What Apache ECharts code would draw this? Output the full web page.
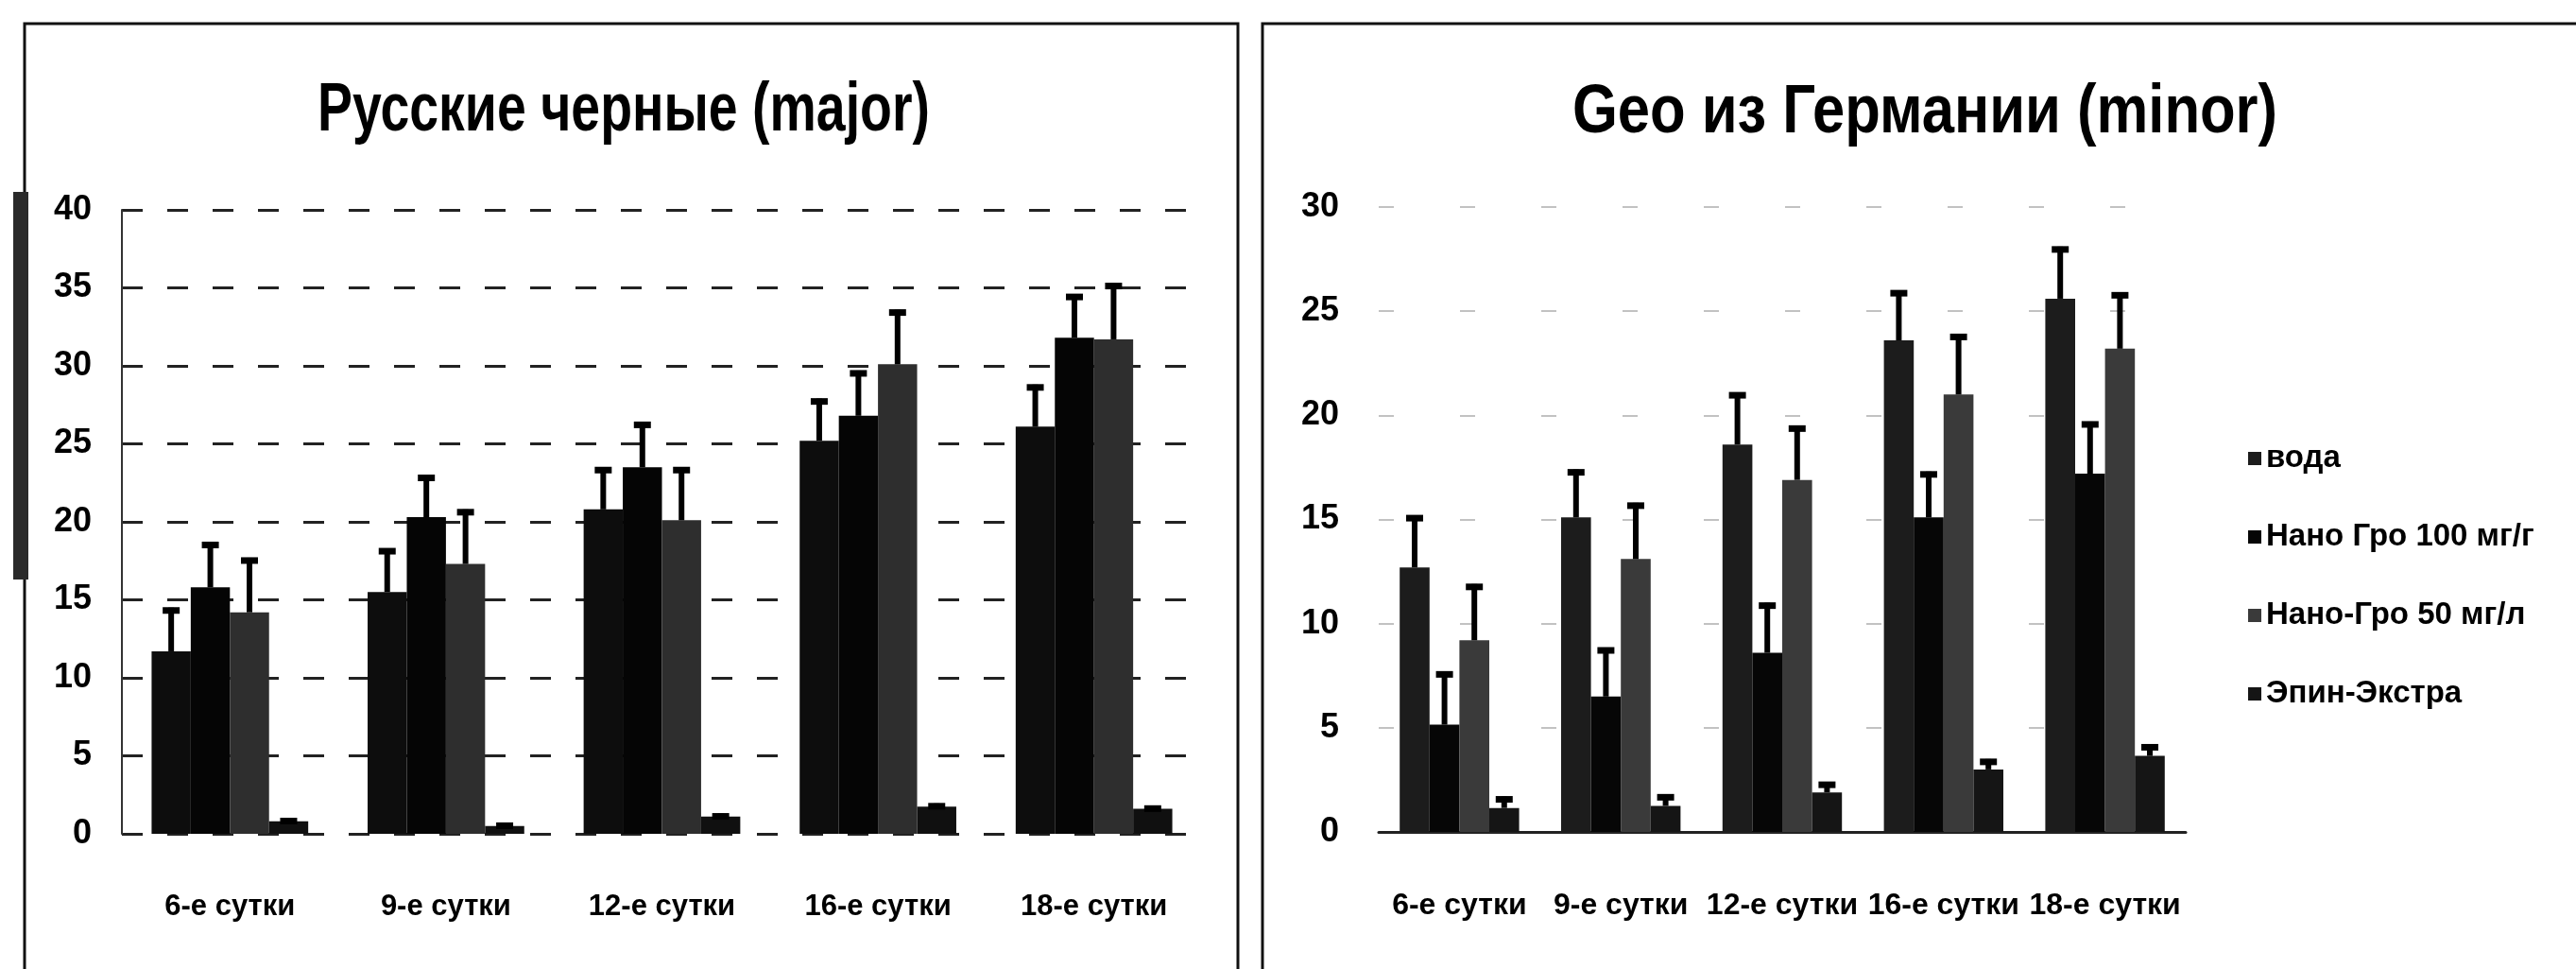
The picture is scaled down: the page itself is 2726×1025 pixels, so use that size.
<!DOCTYPE html>
<html>
<head>
<meta charset="utf-8">
<script src="https://cdn.jsdelivr.net/npm/echarts@6/dist/echarts.min.js"></script>
<style>
html,body{margin:0;padding:0;background:#fff;}
#c{width:2726px;height:1025px;}
</style>
</head>
<body>
<div id="c"></div>
<script>
// ---- data ----
var categories = ['6-е сутки', '9-е сутки', '12-е сутки', '16-е сутки', '18-е сутки'];
var seriesNames = ['вода', 'Нано Гро 100 мг/г', 'Нано-Гро 50 мг/л', 'Эпин-Экстра'];
var leftTitle = 'Русские черные (major)';
var rightTitle = 'Geo из Германии (minor)';
var leftTicks = [0, 5, 10, 15, 20, 25, 30, 35, 40];
var rightTicks = [0, 5, 10, 15, 20, 25, 30];

// Русские черные (major)
var ruVoda = [11.7, 15.5, 20.8, 25.2, 26.1];
var ruVodaErr = [2.8, 2.8, 2.7, 2.7, 2.7];
var ruNano100 = [15.8, 20.3, 23.5, 26.8, 31.8];
var ruNano100Err = [2.9, 2.7, 2.9, 2.9, 2.8];
var ruNano50 = [14.2, 17.3, 20.1, 30.1, 31.7];
var ruNano50Err = [3.5, 3.5, 3.4, 3.5, 3.6];
var ruEpin = [0.8, 0.5, 1.1, 1.75, 1.6];
var ruEpinErr = [0.2, 0.2, 0.2, 0.2, 0.2];

// Geo из Германии (minor)
var geoVoda = [12.7, 15.1, 18.6, 23.6, 25.6];
var geoVodaErr = [2.5, 2.3, 2.5, 2.4, 2.5];
var geoNano100 = [5.15, 6.5, 8.6, 15.1, 17.2];
var geoNano100Err = [2.55, 2.35, 2.4, 2.2, 2.5];
var geoNano50 = [9.2, 13.1, 16.9, 21.0, 23.2];
var geoNano50Err = [2.7, 2.7, 2.6, 2.9, 2.7];
var geoEpin = [1.15, 1.25, 1.9, 3.0, 3.65];
var geoEpinErr = [0.55, 0.55, 0.5, 0.5, 0.55];

// ---- styles ----
var FONT = '"Liberation Sans Narrow", "Liberation Sans", sans-serif';
var leftColors = ['#0d0d0d', '#050505', '#2e2e2e', '#101010'];
var rightColors = ['#1c1c1c', '#060606', '#3a3a3a', '#151515'];
var CAT_GAP_L = 0.275, CAT_GAP_R = 0.26;

var chart = echarts.init(document.getElementById('c'));

function errRenderer(idx, n, gap) {
  return function (params, api) {
    var ci = api.value(0), v = api.value(1), e = api.value(2);
    var base = api.coord([ci, v]);
    var top = api.coord([ci, v + e]);
    var band = api.size([1, 0])[0];
    var bw = band * (1 - gap) / n;
    var x = base[0] + (idx - (n - 1) / 2) * bw;
    var cap = 18;
    return {
      type: 'group',
      children: [
        { type: 'line', shape: { x1: x, y1: base[1], x2: x, y2: top[1] }, style: { stroke: '#000', lineWidth: 6 } },
        { type: 'line', shape: { x1: x - cap / 2, y1: top[1] + 3, x2: x + cap / 2, y2: top[1] + 3 }, style: { stroke: '#000', lineWidth: 7 } }
      ]
    };
  };
}

function errData(vals, errs) {
  return vals.map(function (v, i) { return [i, v, errs[i]]; });
}

var leftSets = [[ruVoda, ruVodaErr], [ruNano100, ruNano100Err], [ruNano50, ruNano50Err], [ruEpin, ruEpinErr]];
var rightSets = [[geoVoda, geoVodaErr], [geoNano100, geoNano100Err], [geoNano50, geoNano50Err], [geoEpin, geoEpinErr]];

var series = [];
leftSets.forEach(function (s, i) {
  series.push({
    type: 'bar', name: seriesNames[i], xAxisIndex: 0, yAxisIndex: 0,
    data: s[0], barGap: '0%', barCategoryGap: (CAT_GAP_L * 100) + '%',
    itemStyle: { color: leftColors[i] }, silent: true, animation: false
  });
});
rightSets.forEach(function (s, i) {
  series.push({
    type: 'bar', name: seriesNames[i], xAxisIndex: 1, yAxisIndex: 1,
    data: s[0], barGap: '0%', barCategoryGap: (CAT_GAP_R * 100) + '%',
    itemStyle: { color: rightColors[i] }, silent: true, animation: false
  });
});
leftSets.forEach(function (s, i) {
  series.push({
    type: 'custom', xAxisIndex: 0, yAxisIndex: 0, z: 5, silent: true, animation: false,
    renderItem: errRenderer(i, 4, CAT_GAP_L), data: errData(s[0], s[1])
  });
});
rightSets.forEach(function (s, i) {
  series.push({
    type: 'custom', xAxisIndex: 1, yAxisIndex: 1, z: 5, silent: true, animation: false,
    renderItem: errRenderer(i, 4, CAT_GAP_R), data: errData(s[0], s[1])
  });
});

var option = {
  backgroundColor: '#fff',
  animation: false,
  textStyle: { fontFamily: FONT },
  legend: {
    orient: 'vertical', left: 2374, top: 462, itemGap: 47, itemWidth: 14, itemHeight: 14,
    icon: 'rect',
    textStyle: { fontFamily: FONT, fontSize: 33, fontWeight: 'bold', color: '#000', lineHeight: 36 },
    data: seriesNames.map(function (n, i) {
      return { name: n, itemStyle: { color: rightColors[i] } };
    })
  },
  grid: [
    { left: 129, top: 222, width: 1143, height: 660, containLabel: false },
    { left: 1459, top: 219, width: 854, height: 661, containLabel: false }
  ],
  xAxis: [
    { type: 'category', gridIndex: 0, data: categories,
      axisLine: { show: false }, axisTick: { show: false },
      axisLabel: { margin: 62, fontFamily: FONT, fontSize: 31, fontWeight: 'bold', color: '#000' } },
    { type: 'category', gridIndex: 1, data: categories,
      axisLine: { show: true, lineStyle: { color: '#222', width: 3 } }, axisTick: { show: false },
      axisLabel: { margin: 62, fontFamily: FONT, fontSize: 32, fontWeight: 'bold', color: '#000', interval: 0 } }
  ],
  yAxis: [
    { type: 'value', gridIndex: 0, min: 0, max: 40, interval: 5,
      axisLine: { show: true, lineStyle: { color: '#333', width: 2 } }, axisTick: { show: false },
      axisLabel: { margin: 32, fontFamily: FONT, fontSize: 36, fontWeight: 'bold', color: '#000',
        formatter: function (v) { return leftTicks.indexOf(v) >= 0 ? String(v) : ''; } },
      splitLine: { show: true, lineStyle: { color: '#222', width: 3, type: [22, 26] } } },
    { type: 'value', gridIndex: 1, min: 0, max: 30, interval: 5,
      axisLine: { show: false }, axisTick: { show: false },
      axisLabel: { margin: 42, fontFamily: FONT, fontSize: 36, fontWeight: 'bold', color: '#000',
        formatter: function (v) { return rightTicks.indexOf(v) >= 0 ? String(v) : ''; } },
      splitLine: { show: true, lineStyle: { color: '#999', width: 2, type: [16, 70], opacity: 0.6 } } }
  ],
  graphic: [
    { type: 'rect', shape: { x: 26, y: 25, width: 1284, height: 1040 },
      style: { fill: 'none', stroke: '#111', lineWidth: 3 }, silent: true, z: -1 },
    { type: 'rect', shape: { x: 1336, y: 25, width: 1420, height: 1040 },
      style: { fill: 'none', stroke: '#111', lineWidth: 3 }, silent: true, z: -1 },
    { type: 'rect', shape: { x: 14, y: 203, width: 16, height: 410 },
      style: { fill: '#2a2a2a' }, silent: true, z: -1 },
    { type: 'text', x: 660, y: 118, scaleX: 0.77, scaleY: 1, silent: true, z: 10,
      style: { text: leftTitle, fontFamily: FONT, fontSize: 72, fontWeight: 'bold', fill: '#000',
        align: 'center', verticalAlign: 'middle' } },
    { type: 'text', x: 2037, y: 120, scaleX: 0.855, scaleY: 1, silent: true, z: 10,
      style: { text: rightTitle, fontFamily: FONT, fontSize: 72, fontWeight: 'bold', fill: '#000',
        align: 'center', verticalAlign: 'middle' } }
  ],
  series: series
};
chart.setOption(option);
</script>
</body>
</html>
